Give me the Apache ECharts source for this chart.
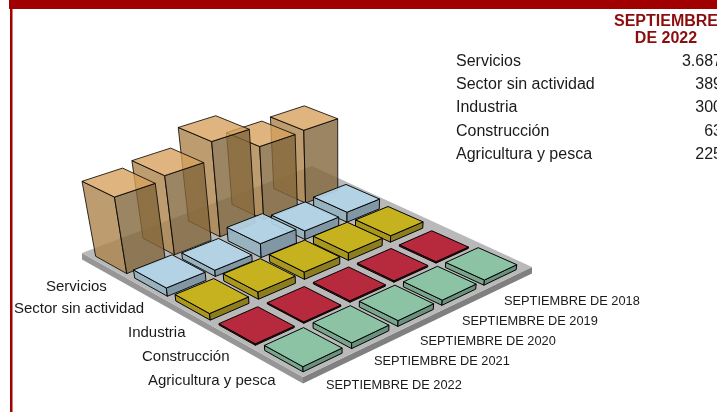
<!DOCTYPE html>
<html>
<head>
<meta charset="utf-8">
<style>
  html, body { margin: 0; padding: 0; background: #fff; overflow: hidden; }
  #chart { width: 717px; height: 412px; }
</style>
<script src="https://cdn.jsdelivr.net/npm/echarts@6/dist/echarts.min.js"></script>
</head>
<body>
<div id="chart"></div>
<script>
// datos
var periodos = ['SEPTIEMBRE DE 2022', 'SEPTIEMBRE DE 2021', 'SEPTIEMBRE DE 2020', 'SEPTIEMBRE DE 2019', 'SEPTIEMBRE DE 2018']
var sectores = ['Servicios', 'Sector sin actividad', 'Industria', 'Construcción', 'Agricultura y pesca']
var servicios = [3687, 3900, 4800, 3760, 3830]
var sinActividad = [389, 300, 680, 430, 510]
var industria = [300, 340, 350, 370, 320]
var construccion = [63, 60, 70, 70, 70]
var agricultura = [225, 255, 265, 240, 245]
var valoresTabla = ['3.687', '389', '300', '63', '225']

// colores de cada sector: tapa, cara izquierda, cara derecha, opacidad
var colores = [
  ['#d7a15e', '#ac834c', '#83663c', 0.8],
  ['#b3d4e6', '#96b1c0', '#7d94a5', 0.93],
  ['#c6b21e', '#a8961e', '#8c7d1e', 1],
  ['#b7293c', '#8a1f2d', '#6e1824', 1],
  ['#8dc3a5', '#78a58c', '#69917d', 1]
]

// esquinas de la reticula en pantalla y proyeccion del plano (perspectiva)
var reticula = [[87, 256], [306, 173], [525, 270], [303, 377]]
var losa = [[82, 253], [303, 377], [532, 267], [312, 166]]
var fuga = [340, 1600]
var hueco = 0.1
var gridCfg = { left: 20, top: 20, width: 100, height: 122 }

var dx1 = reticula[1][0] - reticula[2][0], dx2 = reticula[3][0] - reticula[2][0]
var dy1 = reticula[1][1] - reticula[2][1], dy2 = reticula[3][1] - reticula[2][1]
var sx = reticula[0][0] - reticula[1][0] + reticula[2][0] - reticula[3][0]
var sy = reticula[0][1] - reticula[1][1] + reticula[2][1] - reticula[3][1]
var det = dx1 * dy2 - dx2 * dy1
var pg = (sx * dy2 - dx2 * sy) / det
var ph = (dx1 * sy - sx * dy1) / det

function proyectar (a, b) {
  var u = a / 5, v = b / 5
  var w = pg * u + ph * v + 1
  return {
    x: ((reticula[1][0] - reticula[0][0] + pg * reticula[1][0]) * u + (reticula[3][0] - reticula[0][0] + ph * reticula[3][0]) * v + reticula[0][0]) / w,
    y: ((reticula[1][1] - reticula[0][1] + pg * reticula[1][1]) * u + (reticula[3][1] - reticula[0][1] + ph * reticula[3][1]) * v + reticula[0][1]) / w,
    s: 1 / w
  }
}

// punto a una altura dada, las verticales convergen hacia abajo
function elevar (p, alto) {
  var h = alto * p.s
  return [p.x + (p.x - fuga[0]) * h / (fuga[1] - p.y), p.y - h]
}

function poligono (pts, fill, opacidad, linea) {
  return {
    type: 'polygon',
    shape: { points: pts },
    style: { fill: fill, opacity: opacidad, stroke: linea ? '#000' : null, lineWidth: linea ? 1 : 0, lineJoin: 'round' },
    silent: true
  }
}

function dibujarBarra (params, api) {
  var col = colores[api.value(2)]
  var a = (api.coord([api.value(0), 0])[0] - gridCfg.left) / (gridCfg.width / 5) - 0.5
  var b = api.value(2)
  var alto = api.size([0, api.value(1)])[1]
  var esquinas = [
    proyectar(a + hueco, b + hueco),
    proyectar(a + hueco, b + 1 - hueco),
    proyectar(a + 1 - hueco, b + 1 - hueco),
    proyectar(a + 1 - hueco, b + hueco)
  ]
  var base = esquinas.map(function (p) { return [p.x, p.y] })
  var tapa = esquinas.map(function (p) { return elevar(p, alto) })
  return {
    type: 'group',
    children: [
      poligono([tapa[0], tapa[1], base[1], base[0]], col[1], col[3], true),
      poligono([tapa[1], tapa[2], base[2], base[1]], col[2], col[3], true),
      poligono(tapa, col[0], col[3], true)
    ]
  }
}

function dibujarLosa () {
  var bajo = losa.map(function (p) { return [p[0], p[1] + 6.5] })
  return {
    type: 'group',
    children: [
      poligono([losa[0], losa[1], bajo[1], bajo[0]], '#969696', 1, false),
      poligono([losa[1], losa[2], bajo[2], bajo[1]], '#808080', 1, false),
      poligono(losa, '#b9b9b9', 1, false)
    ]
  }
}

var valores = [servicios, sinActividad, industria, construccion, agricultura]
var series = [{
  type: 'custom',
  renderItem: dibujarLosa,
  data: [[0, 0]],
  animation: false,
  silent: true
}]
sectores.forEach(function (sector, s) {
  var filas = []
  // de atras hacia adelante para que las transparencias queden bien
  for (var i = periodos.length - 1; i >= 0; i--) {
    filas.push([i, valores[s][i], s])
  }
  series.push({
    type: 'custom',
    name: sector,
    renderItem: dibujarBarra,
    encode: { x: 0, y: 1 },
    data: filas,
    animation: false,
    silent: true
  })
})

function texto (txt, x, y, font, color, align) {
  return {
    type: 'text',
    x: x,
    y: y,
    silent: true,
    style: { text: txt, font: font, fill: color || '#1a1a1a', align: align || 'left', verticalAlign: 'middle' }
  }
}

var fuenteEtiqueta = '15px "Liberation Sans", Arial, sans-serif'
var fuenteTabla = '16px "Liberation Sans", Arial, sans-serif'
var fuenteEje = '12.8px "Liberation Sans", Arial, sans-serif'
var fuenteTitulo = 'bold 16px "Liberation Sans", Arial, sans-serif'
var rojo = '#a00000'

var etiquetasX = [46, 14, 128, 142, 148]
var etiquetasY = [287, 309, 333, 357, 381]
var periodosX = [326, 374, 420, 462, 504]
var periodosY = [385, 361, 341, 321, 301]
var tablaY = [62, 85, 108, 132, 155]

var graficos = [
  { type: 'rect', shape: { x: 9, y: 0, width: 708, height: 9 }, style: { fill: rojo }, silent: true },
  { type: 'rect', shape: { x: 10, y: 9, width: 2.5, height: 403 }, style: { fill: rojo }, silent: true },
  texto('SEPTIEMBRE', 666, 22, fuenteTitulo, '#8b0d0d', 'center'),
  texto('DE 2022', 666, 39, fuenteTitulo, '#8b0d0d', 'center')
]
sectores.forEach(function (sector, s) {
  graficos.push(texto(sector, etiquetasX[s], etiquetasY[s], fuenteEtiqueta))
  graficos.push(texto(sector, 456, tablaY[s], fuenteTabla))
  graficos.push(texto(valoresTabla[s], 722, tablaY[s], fuenteTabla, null, 'right'))
})
periodos.forEach(function (periodo, i) {
  graficos.push(texto(periodo, periodosX[i], periodosY[i], fuenteEje))
})

var myChart = echarts.init(document.getElementById('chart'))
myChart.setOption({
  animation: false,
  grid: gridCfg,
  xAxis: { type: 'category', data: periodos, show: false },
  yAxis: { type: 'value', min: 0, max: 6000, show: false },
  graphic: graficos,
  series: series
})
</script>
</body>
</html>
